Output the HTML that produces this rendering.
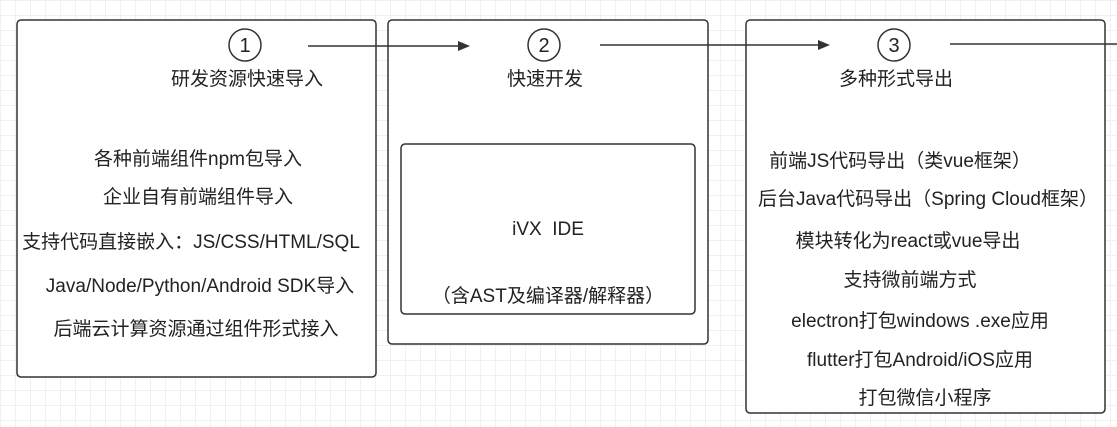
<!DOCTYPE html>
<html><head><meta charset="utf-8"><style>
body{margin:0;width:1117px;height:427px;overflow:hidden;background:#fff;
background-image:linear-gradient(#f0f0f0 1px,transparent 1px),linear-gradient(90deg,#f0f0f0 1px,transparent 1px);background-size:15px 15px;
font-family:"Liberation Sans","Noto Sans CJK SC",sans-serif;color:#222;}
.t{position:absolute;font-size:19px;white-space:nowrap;transform:translateX(-50%);line-height:22px}
</style></head><body>
<svg width="1117" height="427" style="position:absolute;left:0;top:0">
<g fill="#fff" stroke="#333" stroke-width="1.5">
<rect x="17" y="20" width="359" height="357" rx="4"/>
<rect x="388" y="20" width="320" height="324" rx="4"/>
<rect x="746" y="20" width="359" height="393" rx="4"/>
<rect x="401" y="144" width="294" height="170" rx="4"/>
<circle cx="245" cy="45" r="16"/>
<circle cx="544" cy="45" r="16"/>
<circle cx="894" cy="45" r="16"/>
</g>
<g stroke="#333" stroke-width="1.5">
<line x1="308" y1="46" x2="460" y2="46"/>
<line x1="600" y1="45" x2="820" y2="45"/>
<line x1="950" y1="44" x2="1117" y2="44"/>
</g>
<g fill="#333"><polygon points="470,46 458,41 458,51"/><polygon points="830,45 818,40 818,50"/></g>
<g font-family="Liberation Sans" font-size="20" text-anchor="middle" fill="#222">
<text x="245" y="52">1</text><text x="544" y="52">2</text><text x="894" y="52">3</text></g>
</svg>
<div class="t" style="left:247px;top:69px">研发资源快速导入</div>
<div class="t" style="left:545px;top:69px">快速开发</div>
<div class="t" style="left:896px;top:69px">多种形式导出</div>
<div class="t" style="left:198px;top:149px">各种前端组件npm包导入</div>
<div class="t" style="left:198px;top:187px">企业自有前端组件导入</div>
<div class="t" style="left:191px;top:232px">支持代码直接嵌入：JS/CSS/HTML/SQL</div>
<div class="t" style="left:200px;top:276px">Java/Node/Python/Android SDK导入</div>
<div class="t" style="left:196px;top:319px">后端云计算资源通过组件形式接入</div>
<div class="t" style="left:548px;top:219px">iVX&nbsp;&nbsp;IDE</div>
<div class="t" style="left:548px;top:286px">（含AST及编译器/解释器）</div>
<div class="t" style="left:900px;top:151px">前端JS代码导出（类vue框架）</div>
<div class="t" style="left:928px;top:189px">后台Java代码导出（Spring Cloud框架）</div>
<div class="t" style="left:908px;top:231px">模块转化为react或vue导出</div>
<div class="t" style="left:910px;top:270px">支持微前端方式</div>
<div class="t" style="left:920px;top:311px">electron打包windows .exe应用</div>
<div class="t" style="left:920px;top:350px">flutter打包Android/iOS应用</div>
<div class="t" style="left:925px;top:388px">打包微信小程序</div>
</body></html>
